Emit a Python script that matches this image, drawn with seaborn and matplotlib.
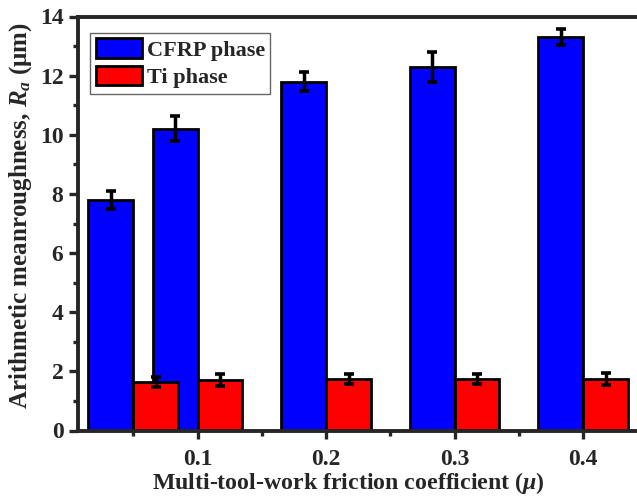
import numpy as np
import pandas as pd
import seaborn as sns
import matplotlib
matplotlib.use('Agg')
import matplotlib.pyplot as plt
from matplotlib.patches import Patch
from matplotlib.ticker import MultipleLocator, FixedLocator

# friction coefficient of each group and mean roughness per phase
friction = [0.05, 0.1, 0.2, 0.3, 0.4]
cfrp_ra = [7.8, 10.2, 11.8, 12.3, 13.3]
cfrp_err = [0.31, 0.42, 0.31, 0.5, 0.28]
ti_ra = [1.64, 1.71, 1.74, 1.74, 1.74]
ti_err = [0.17, 0.2, 0.18, 0.17, 0.19]
phases = ['CFRP phase', 'Ti phase']
colours = ['#0000FF', '#FF0000']

df = pd.DataFrame({
    'mu': friction * 2,
    'Ra': cfrp_ra + ti_ra,
    'Phase': [phases[0]] * len(friction) + [phases[1]] * len(friction),
})

sns.set_theme(style='ticks')
plt.rcParams['font.family'] = ['Liberation Serif', 'DejaVu Serif']
plt.rcParams['font.weight'] = 'bold'
plt.rcParams['axes.labelweight'] = 'bold'
plt.rcParams['mathtext.fontset'] = 'custom'
plt.rcParams['mathtext.it'] = 'Liberation Serif:italic:bold'
plt.rcParams['mathtext.rm'] = 'Liberation Serif:bold'
plt.rcParams['mathtext.bf'] = 'Liberation Serif:bold'

fig = plt.figure(figsize=(6.37, 4.97), dpi=100)
ax = fig.add_axes([78 / 637, 1 - 430.5 / 497, 559 / 637, 414 / 497])

sns.barplot(data=df, x='mu', y='Ra', hue='Phase', native_scale=True,
            palette=dict(zip(phases, colours)), saturation=1, width=1.4,
            errorbar=None, edgecolor='black', linewidth=2, legend=False, ax=ax)

for cont, errs in zip(ax.containers, [cfrp_err, ti_err]):
    xs = [b.get_x() + b.get_width() / 2 for b in cont]
    hs = [b.get_height() for b in cont]
    ax.errorbar(xs, hs, yerr=errs, fmt='none', ecolor='black',
                elinewidth=2.5, capsize=3.7, capthick=2.6, zorder=3)

ax.set_xlim(0.007, 0.442)
ax.set_ylim(0, 14)
ax.xaxis.set_major_locator(FixedLocator([0.1, 0.2, 0.3, 0.4]))
ax.xaxis.set_minor_locator(FixedLocator([0.05, 0.15, 0.25, 0.35]))
ax.set_xticklabels(['0.1', '0.2', '0.3', '0.4'])
ax.yaxis.set_major_locator(MultipleLocator(2))
ax.yaxis.set_minor_locator(MultipleLocator(1))

for s in ['left', 'bottom', 'top']:
    ax.spines[s].set_linewidth(2.8)
ax.spines['right'].set_visible(False)
ax.tick_params(axis='both', which='both', direction='out', width=2.4,
               labelsize=17, top=False, right=False)
ax.tick_params(axis='x', which='major', length=6, pad=7)
ax.tick_params(axis='x', which='minor', length=3.5)
ax.tick_params(axis='y', which='major', length=6.5, pad=4)
ax.tick_params(axis='y', which='minor', length=3.5)
for lab in ax.get_xticklabels() + ax.get_yticklabels():
    lab.set_fontweight('bold')

ax.set_xlabel(r'Multi-tool-work friction coefficient ($\mu$)', fontsize=17.2,
              labelpad=0)
ax.set_ylabel(r'Arithmetic meanroughness, $R_a$ (μm)', fontsize=18,
              labelpad=4)
ax.xaxis.label.set_x(0.484)
ax.yaxis.label.set_y(0.52)

handles = [Patch(facecolor=c, edgecolor='black', linewidth=2) for c in colours]
leg = ax.legend(handles, phases, loc='upper left',
                bbox_to_anchor=(12 / 559, 1 - 16.3 / 414), borderaxespad=0,
                fontsize=16, frameon=True, fancybox=False, framealpha=1,
                edgecolor='#666666', handlelength=2.1, handleheight=0.97,
                labelspacing=0.22, borderpad=0.25, handletextpad=0.2)
leg.get_frame().set_linewidth(1)
for t in leg.get_texts():
    t.set_fontweight('bold')

fig.savefig('out.png', dpi=100)
